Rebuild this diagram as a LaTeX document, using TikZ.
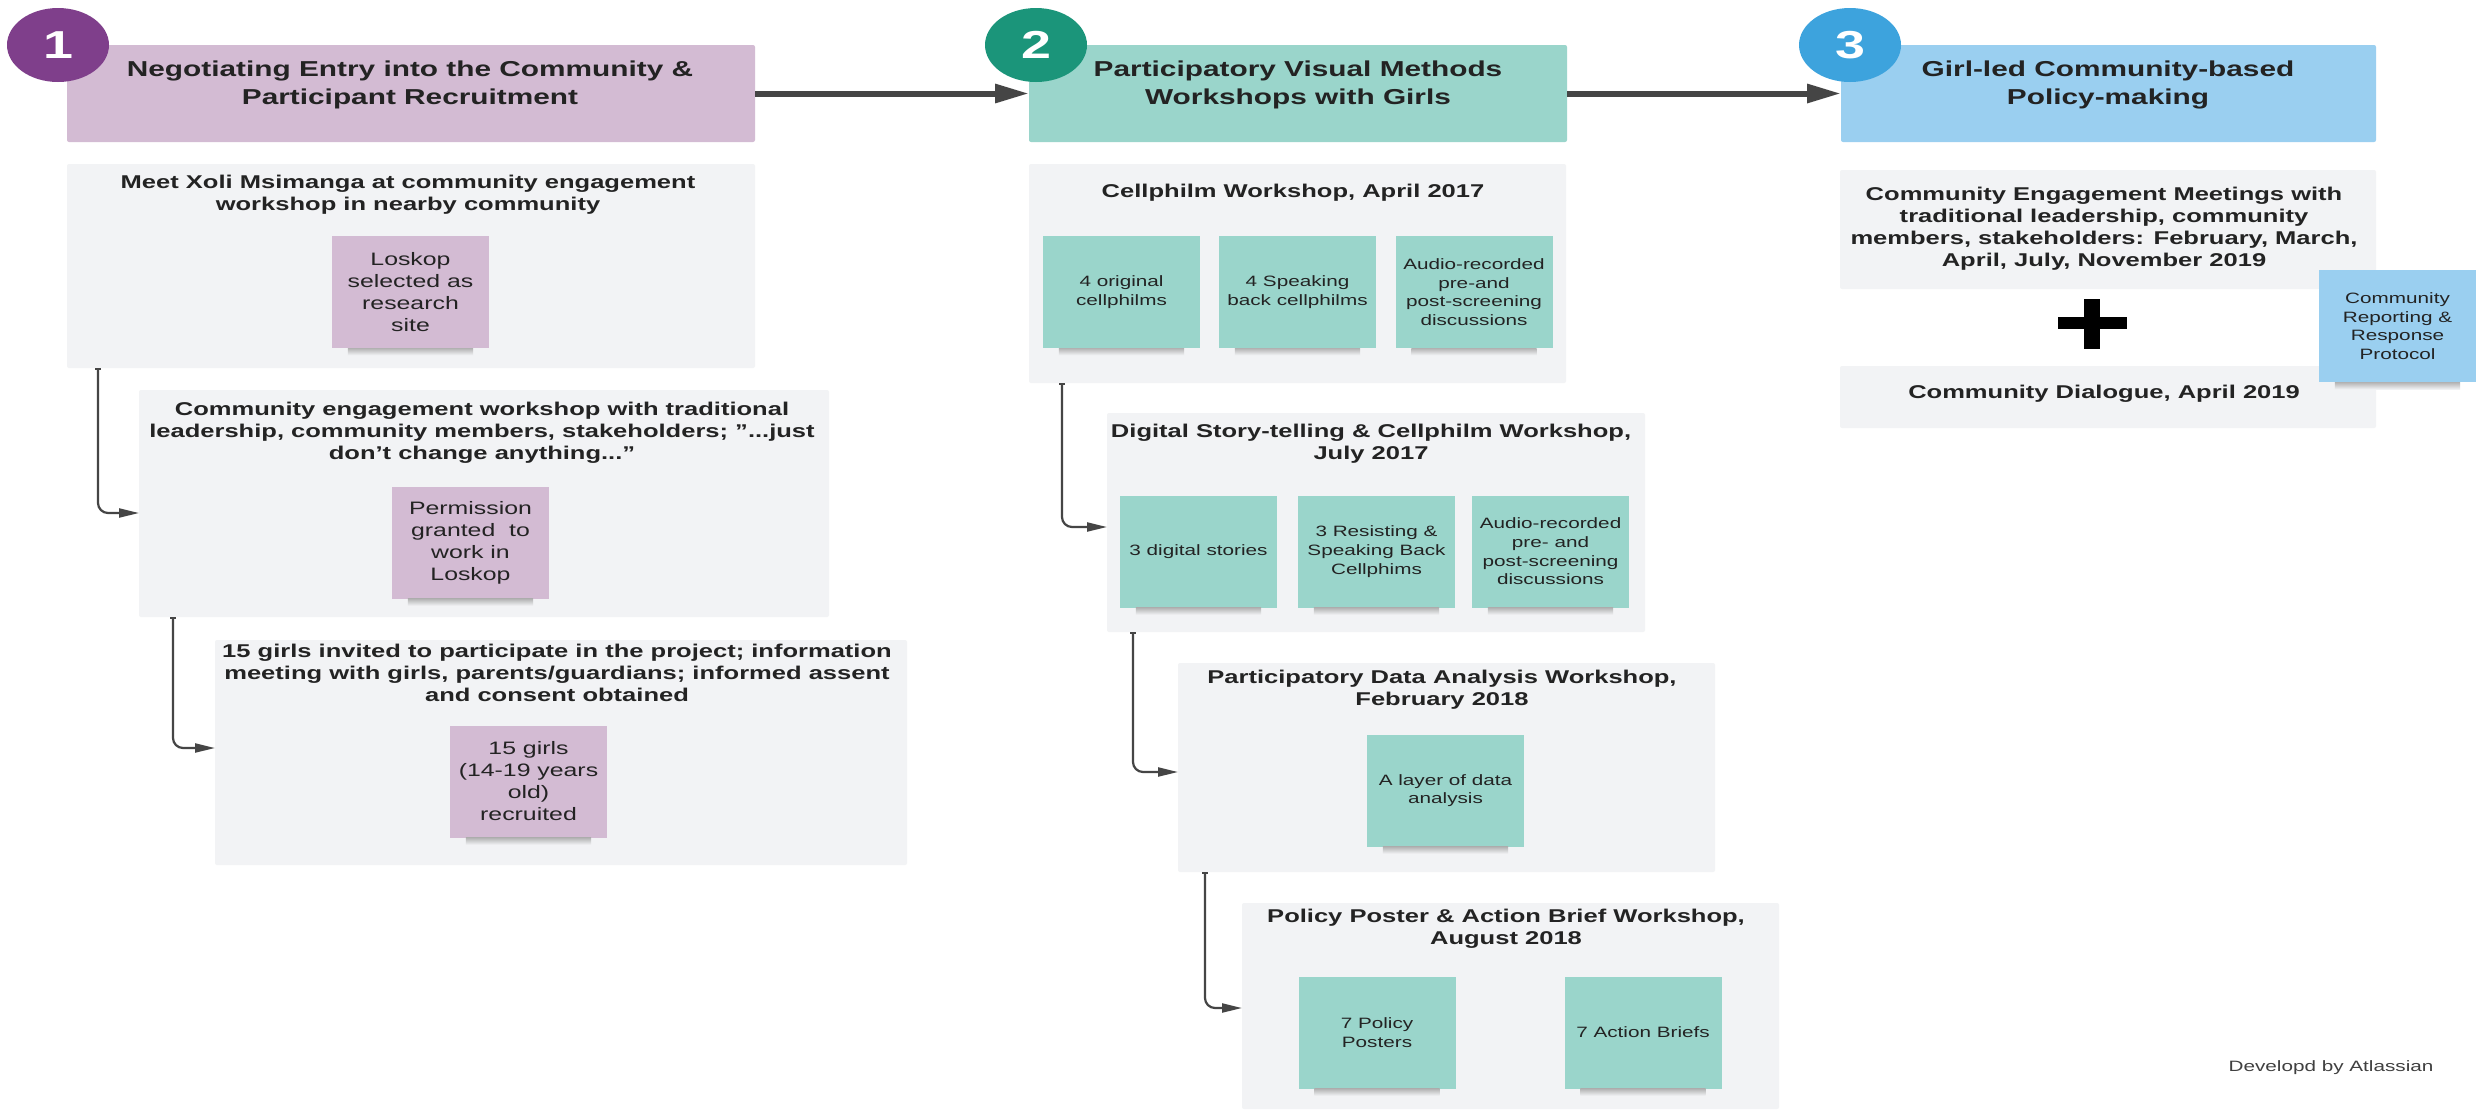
\documentclass[tikz,border=0pt]{standalone}
\usepackage{fontspec}
\setmainfont{Liberation Sans}[FakeStretch=1.38]
\usepackage{tikz}
\usetikzlibrary{arrows.meta,shapes.geometric}

\definecolor{purpleL}{HTML}{D3BBD3}
\definecolor{purpleD}{HTML}{7F3F8B}
\definecolor{tealL}{HTML}{9AD5CB}
\definecolor{tealD}{HTML}{1B957A}
\definecolor{blueL}{HTML}{9ACFF0}
\definecolor{blueD}{HTML}{3DA3DD}
\definecolor{panelgray}{HTML}{F2F3F5}
\definecolor{linkgray}{HTML}{454545}
\definecolor{inkgray}{HTML}{232323}

\begin{document}
\begin{tikzpicture}[x=1pt,y=-1pt,
  box/.style={anchor=north west,inner sep=0pt,outer sep=0pt,rounded corners=2pt},
  header/.style={box,minimum height=97pt},
  panel/.style={box,fill=panelgray},
  htitle/.style={anchor=north,inner sep=0pt,align=center,text=inkgray,font=\bfseries\fontsize{21.6}{28}\selectfont},
  ptitle/.style={anchor=north,inner sep=0pt,align=center,text=inkgray,font=\bfseries\fontsize{18.5}{22}\selectfont},
  sticky/.style={inner sep=0pt,minimum width=157pt,minimum height=112pt,align=center,text=inkgray,font=\fontsize{15}{18.7}\selectfont},
  bigsticky/.style={sticky,font=\fontsize{18}{22}\selectfont},
  badge/.style={ellipse,minimum width=102pt,minimum height=74pt,inner sep=0pt,text=white,font=\bfseries\fontsize{39}{39}\selectfont},
  stage/.style={draw=linkgray,line width=6pt,-{Triangle[length=34pt,width=18pt]}},
  link/.style={draw=linkgray,line width=2.2pt,rounded corners=10pt,{Bar[width=6pt,line width=1.5pt]}-{Triangle[length=20pt,width=9pt]}}
]
\fill[white] (0,0) rectangle (2488,1109);
\useasboundingbox (0,0) rectangle (2488,1109);

\node[panel,minimum width=688pt,minimum height=204pt] (bA) at (67,164) {};
\node[panel,minimum width=690pt,minimum height=227pt] (bB) at (139,390) {};
\node[panel,minimum width=692pt,minimum height=225pt] (bC) at (215,640) {};
\node[panel,minimum width=537pt,minimum height=219pt] (bD) at (1029,164) {};
\node[panel,minimum width=538pt,minimum height=219pt] (bE) at (1107,413) {};
\node[panel,minimum width=537pt,minimum height=209pt] (bF) at (1178,663) {};
\node[panel,minimum width=537pt,minimum height=206pt] (bG) at (1242,903) {};
\node[panel,minimum width=536pt,minimum height=119pt] (bH) at (1840,170) {};
\node[panel,minimum width=536pt,minimum height=62pt] (bI) at (1840,366) {};

\node[ptitle] (tA) at (408,175) {Meet Xoli Msimanga at community engagement\\workshop in nearby community};
\node[ptitle] (tB) at (482,402) {Community engagement workshop with traditional\\leadership, community members, stakeholders; \symbol{34}...just\\don't change anything...\symbol{34}};
\node[ptitle] (tC) at (557,644) {15 girls invited to participate in the project; information\\meeting with girls, parents/guardians; informed assent\\and consent obtained};
\node[ptitle] (tD) at (1293,184) {Cellphilm Workshop, April 2017};
\node[ptitle] (tE) at (1371,424) {Digital Story-telling \& Cellphilm Workshop,\\July 2017};
\node[ptitle] (tF) at (1442,670) {Participatory Data Analysis Workshop,\\February 2018};
\node[ptitle] (tG) at (1506,909) {Policy Poster \& Action Brief Workshop,\\August 2018};
\node[ptitle] (tH) at (2104,187) {Community Engagement Meetings with\\traditional leadership, community\\members, stakeholders: February, March,\\April, July, November 2019};
\node[ptitle] (tI) at (2104,385) {Community Dialogue, April 2019};

\node[bigsticky,fill=purpleL] (sA) at (410.5,292) {Loskop\\selected as\\research\\site};
\node[bigsticky,fill=purpleL] (sB) at (470.5,542.5) {Permission\\granted\ \ to\\work in\\Loskop};
\node[bigsticky,fill=purpleL] (sC) at (528.5,781.5) {15 girls\\(14-19 years\\old)\\recruited};
\node[sticky,fill=tealL] (sD1) at (1121.5,292) {4 original\\cellphilms};
\node[sticky,fill=tealL] (sD2) at (1297.5,292) {4 Speaking\\back cellphilms};
\node[sticky,fill=tealL] (sD3) at (1474,292) {Audio-recorded\\pre-and\\post-screening\\discussions};
\node[sticky,fill=tealL] (sE1) at (1198.5,551.5) {3 digital stories};
\node[sticky,fill=tealL] (sE2) at (1376.5,551.5) {3 Resisting \&\\Speaking Back\\Cellphims};
\node[sticky,fill=tealL] (sE3) at (1550.5,551.5) {Audio-recorded\\pre- and\\post-screening\\discussions};
\node[sticky,fill=tealL] (sF) at (1445.5,790.5) {A layer of data\\analysis};
\node[sticky,fill=tealL] (sG1) at (1377,1032.5) {7 Policy\\Posters};
\node[sticky,fill=tealL] (sG2) at (1643,1032.5) {7 Action Briefs};
\node[sticky,fill=blueL] (sH) at (2397.5,326) {Community\\Reporting \&\\Response\\Protocol};
\foreach \s in {sA,sB,sC,sD1,sD2,sD3,sE1,sE2,sE3,sF,sG1,sG2,sH}
  \shade[top color=black!30,bottom color=panelgray] ([xshift=16pt]\s.south west) rectangle ([xshift=-16pt,yshift=-7pt]\s.south east);

\node[header,fill=purpleL,minimum width=688pt] (hdrA) at (67,45) {};
\node[header,fill=tealL,minimum width=538pt] (hdrB) at (1029,45) {};
\node[header,fill=blueL,minimum width=535pt] (hdrC) at (1841,45) {};
\node[htitle] (hA) at (410,61) {Negotiating Entry into the Community \&\\Participant Recruitment};
\node[htitle] (hB) at (1298,61) {Participatory Visual Methods\\Workshops with Girls};
\node[htitle] (hC) at (2108,61) {Girl-led Community-based\\Policy-making};

\node[badge,fill=purpleD] (nA) at (58,45) {1};
\node[badge,fill=tealD] (nB) at (1036,45) {2};
\node[badge,fill=blueD] (nC) at (1850,45) {3};

\draw[stage] (hdrA.east) -- (hdrB.west);
\draw[stage] (hdrB.east) -- (hdrC.west);

\draw[link] ([xshift=31pt]bA.south west) |- ([yshift=-9.5pt]bB.west);
\draw[link] ([xshift=34pt]bB.south west) |- ([yshift=4.5pt]bC.west);
\draw[link] ([xshift=33pt]bD.south west) |- ([yshift=-4.5pt]bE.west);
\draw[link] ([xshift=26pt]bE.south west) |- ([yshift=-4.5pt]bF.west);
\draw[link] ([xshift=27pt]bF.south west) |- ([yshift=-2pt]bG.west);

\fill (2058,317) rectangle (2127,329);
\fill (2084,299) rectangle (2100,349);

\node[font=\fontsize{15}{18}\selectfont,text=black!75] (credit) at (2331,1068) {Developd by Atlassian};
\end{tikzpicture}
\end{document}
